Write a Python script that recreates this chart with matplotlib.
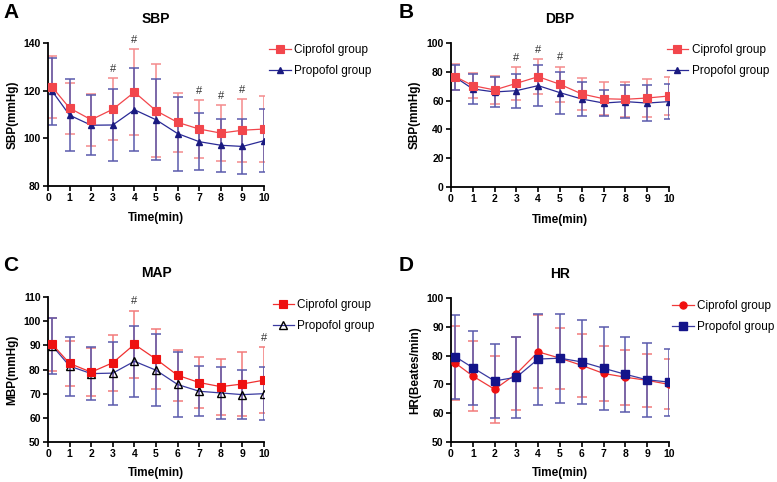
import matplotlib
matplotlib.use("Agg")
import matplotlib.pyplot as plt
import numpy as np

plt.rcParams['font.family'] = ['Liberation Sans', 'DejaVu Sans']

# time points (first reading plotted just after 0)
time = [0.2, 1, 2, 3, 4, 5, 6, 7, 8, 9, 10]

# A: SBP
sbp_cipro = [121.4, 112.7, 107.8, 112.2, 119.4, 111.6, 106.7, 103.9, 102.2, 103.4, 103.9]
sbp_cipro_sd = [13.0, 10.7, 11.0, 13.0, 18.0, 19.6, 12.5, 12.3, 11.7, 13.2, 13.8]
sbp_propo = [119.7, 109.7, 105.5, 105.6, 112.0, 107.8, 102.0, 98.6, 97.1, 96.6, 99.0]
sbp_propo_sd = [14.2, 15.0, 12.6, 15.0, 17.4, 17.0, 15.5, 12.0, 11.2, 11.6, 13.3]
sbp_sig = [3, 4, 7, 8, 9]

# B: DBP
dbp_cipro = [76.6, 70.4, 67.4, 72.0, 76.6, 71.3, 64.6, 61.3, 60.9, 61.8, 63.2]
dbp_cipro_sd = [9.0, 8.8, 10.0, 11.3, 12.0, 12.3, 11.0, 11.5, 12.0, 13.0, 13.0]
dbp_propo = [76.2, 68.1, 66.0, 66.9, 70.4, 65.5, 61.1, 58.3, 59.3, 58.3, 59.3]
dbp_propo_sd = [8.6, 10.5, 10.4, 11.7, 14.0, 14.5, 11.7, 9.0, 11.5, 12.3, 12.0]
dbp_sig = [3, 4, 5]

# C: MAP
map_cipro = [90.4, 82.5, 78.9, 82.8, 90.4, 84.3, 77.6, 74.6, 72.9, 74.0, 75.6]
map_cipro_sd = [11.0, 9.4, 10.0, 11.5, 14.0, 12.4, 10.6, 10.6, 11.6, 13.2, 13.8]
map_propo = [89.8, 81.4, 78.3, 78.5, 83.4, 79.7, 73.8, 71.0, 70.3, 69.6, 70.0]
map_propo_sd = [11.5, 12.2, 11.0, 13.0, 14.8, 15.0, 13.5, 10.4, 10.6, 10.2, 11.0]
map_sig = [4, 10]

# D: HR
hr_cipro = [77.4, 72.9, 68.3, 73.7, 81.3, 79.1, 76.6, 73.8, 72.5, 71.4, 70.0]
hr_cipro_sd = [12.8, 12.0, 11.7, 12.7, 12.7, 10.6, 11.0, 9.7, 9.6, 9.2, 8.7]
hr_propo = [79.6, 75.8, 71.2, 72.5, 78.8, 79.1, 77.8, 75.6, 73.5, 71.6, 70.8]
hr_propo_sd = [14.6, 12.8, 12.7, 14.0, 15.8, 15.5, 14.6, 14.5, 13.0, 12.8, 11.6]
hr_sig = []

W, H = 777, 482
fig = plt.figure(figsize=(W / 100, H / 100), dpi=100)


def px_axes(l, t, r, b):
    return fig.add_axes([l / W, 1 - b / H, (r - l) / W, (b - t) / H])


def draw(ax, c, c_sd, p, p_sd, sig, ylim, yticks, title, ylabel,
         cstyle, pstyle, leg_xy, xlab_y):
    ax.errorbar(time, c, yerr=c_sd, fmt='none', ecolor=cstyle['ecolor'],
                elinewidth=1.1, capsize=3.3, capthick=1.1, zorder=2)
    ax.errorbar(time, p, yerr=p_sd, fmt='none', ecolor=pstyle['ecolor'],
                elinewidth=1.1, capsize=3.3, capthick=1.1, zorder=2)
    ax.plot(time, p, color=pstyle['line'], lw=0.9, marker=pstyle['marker'],
            ms=pstyle['ms'], mfc=pstyle['mfc'], mec=pstyle['mec'], mew=1.0,
            label='Propofol group', zorder=pstyle['z'])
    ax.plot(time, c, color=cstyle['line'], lw=0.9, marker=cstyle['marker'],
            ms=cstyle['ms'], mfc=cstyle['mfc'], mec=cstyle['mec'], mew=0.8,
            label='Ciprofol group', zorder=cstyle['z'])
    top = np.maximum(np.array(c) + np.array(c_sd), np.array(p) + np.array(p_sd))
    for s in sig:
        i = time.index(s)
        ax.annotate('#', (s, top[i]), xytext=(0, 3), textcoords='offset points',
                    ha='center', va='bottom', fontsize=8, color='#333333',
                    annotation_clip=False)
    ax.set_xlim(0, 10)
    ax.set_ylim(*ylim)
    ax.set_xticks(range(11))
    ax.set_yticks(yticks)
    for sp in ['top', 'right']:
        ax.spines[sp].set_visible(False)
    for sp in ['left', 'bottom']:
        ax.spines[sp].set_linewidth(1.3)
    ax.tick_params(width=1.2, length=3.5, labelsize=7.5, pad=1.8)
    for lb in ax.get_xticklabels() + ax.get_yticklabels():
        lb.set_fontweight('bold')
    ax.set_xlabel('Time(min)', fontsize=8.5, fontweight='bold')
    ax.xaxis.set_label_coords(0.5, xlab_y)
    ax.set_ylabel(ylabel, fontsize=8.5, fontweight='bold')
    ax.yaxis.set_label_coords(-0.138, 0.5)
    ax.text(0.5, 1.165, title, transform=ax.transAxes, ha='center', va='center',
            fontsize=10, fontweight='bold')
    h, l = ax.get_legend_handles_labels()
    ax.legend(h[::-1], l[::-1], loc='upper left', bbox_to_anchor=leg_xy,
              frameon=False, fontsize=8.5, handlelength=1.8, handletextpad=0.3,
              labelspacing=0.75, borderpad=0, borderaxespad=0)


red_ab = dict(line='#f2464c', ecolor='#f48a8c', marker='s', ms=5.5,
              mfc='#f2464c', mec='#f2464c', z=4)
blue_ab = dict(line='#2a2a96', ecolor='#5a5aac', marker='^', ms=4.2,
               mfc='#1a1a80', mec='#1a1a80', z=3)
red_c = dict(line='#f03030', ecolor='#f27a7a', marker='s', ms=5.2,
             mfc='#ee1111', mec='#ee1111', z=4)
blue_c = dict(line='#3a3aa0', ecolor='#5a5aac', marker='^', ms=5.5,
              mfc='none', mec='black', z=3)
red_d = dict(line='#f03a3a', ecolor='#f27a7a', marker='o', ms=5.2,
             mfc='#f01010', mec='#f01010', z=3)
blue_d = dict(line='#3a3aa0', ecolor='#5a5aac', marker='s', ms=5.2,
              mfc='#14148a', mec='#14148a', z=4)

axA = px_axes(48, 43, 264, 186)
draw(axA, sbp_cipro, sbp_cipro_sd, sbp_propo, sbp_propo_sd, sbp_sig,
     (80, 140), [80, 100, 120, 140], 'SBP', 'SBP(mmHg)',
     red_ab, blue_ab, (1.025, 0.99), -0.18)
axB = px_axes(451, 43, 669, 187)
draw(axB, dbp_cipro, dbp_cipro_sd, dbp_propo, dbp_propo_sd, dbp_sig,
     (0, 100), [0, 20, 40, 60, 80, 100], 'DBP', 'SBP(mmHg)',
     red_ab, blue_ab, (0.99, 0.99), -0.185)
axC = px_axes(48, 297, 264, 442)
draw(axC, map_cipro, map_cipro_sd, map_propo, map_propo_sd, map_sig,
     (50, 110), [50, 60, 70, 80, 90, 100, 110], 'MAP', 'MBP(mmHg)',
     red_c, blue_c, (1.04, 0.985), -0.172)
axD = px_axes(451, 298, 669, 442)
draw(axD, hr_cipro, hr_cipro_sd, hr_propo, hr_propo_sd, hr_sig,
     (50, 100), [50, 60, 70, 80, 90, 100], 'HR', 'HR(Beates/min)',
     red_d, blue_d, (1.015, 0.985), -0.172)

for letter, x, y in [('A', 3, 3), ('B', 399, 3), ('C', 3, 256), ('D', 399, 256)]:
    fig.text(x / W, 1 - y / H, letter, fontsize=15, fontweight='bold',
             ha='left', va='top')

fig.savefig('out.png', dpi=100)
